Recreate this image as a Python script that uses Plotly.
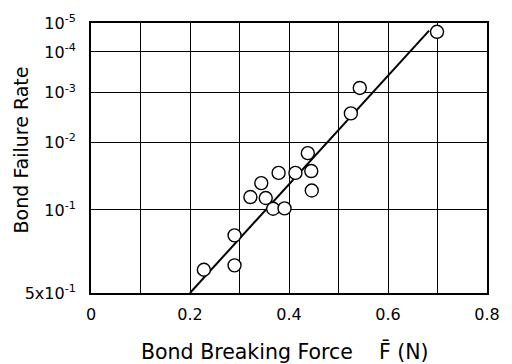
from statistics import NormalDist
import plotly.graph_objects as go

# ---- data ----
force = [0.228, 0.290, 0.290, 0.322, 0.344, 0.353, 0.368, 0.391,
         0.379, 0.413, 0.445, 0.438, 0.446, 0.525, 0.543, 0.699]
failure_rate = [0.36, 0.187, 0.335, 0.0695, 0.045, 0.0715, 0.097, 0.096,
                0.032, 0.032, 0.030, 0.0155, 0.057, 0.0028, 0.00078, 2.8e-5]

fit_force = [0.20, 0.683]
fit_rate = [0.5, 2.6e-5]

x_tick_vals = [0, 0.2, 0.4, 0.6, 0.8]
x_tick_text = ["0", "0.2", "0.4", "0.6", "0.8"]
x_minor_vals = [0.1, 0.3, 0.5, 0.7]

# the top border of the reference's probability scale (labelled 10^-5)
y_top_rate = 1.56e-5
y_tick_rates = [y_top_rate, 1e-4, 1e-3, 1e-2, 1e-1, 0.5]
y_tick_text = ["10<sup>-5</sup>", "10<sup>-4</sup>", "10<sup>-3</sup>",
               "10<sup>-2</sup>", "10<sup>-1</sup>", "5x10<sup>-1</sup>"]

# probability (normal) scale
nd = NormalDist()
def probit(values):
    return [nd.inv_cdf(v) for v in values]

FONT = "DejaVu Sans"

fig = go.Figure()
fig.add_trace(go.Scatter(
    x=fit_force, y=probit(fit_rate), mode="lines",
    line=dict(color="black", width=2), hoverinfo="skip", showlegend=False))
fig.add_trace(go.Scatter(
    x=force, y=probit(failure_rate), mode="markers",
    marker=dict(symbol="circle", size=13, color="white",
                line=dict(color="black", width=1.4)),
    showlegend=False))

z_top = nd.inv_cdf(y_top_rate)

fig.update_layout(
    width=512, height=364,
    margin=dict(l=91, r=24, t=17, b=71),
    paper_bgcolor="white", plot_bgcolor="white",
    font=dict(family=FONT, color="black"),
    xaxis=dict(range=[0, 0.8], tickvals=x_tick_vals, ticktext=x_tick_text,
               showgrid=True, gridcolor="black", gridwidth=1.2,
               minor=dict(tickvals=x_minor_vals, showgrid=True,
                          gridcolor="black", gridwidth=1.2, ticks=""),
               showline=True, linecolor="black", linewidth=2, mirror=True,
               zeroline=False, ticks="", ticklabelstandoff=6,
               tickfont=dict(size=16, family=FONT)),
    yaxis=dict(range=[0.0005, z_top - 0.0005],
               tickvals=probit(y_tick_rates), ticktext=y_tick_text,
               showgrid=True, gridcolor="black", gridwidth=1.2,
               showline=True, linecolor="black", linewidth=2, mirror=True,
               zeroline=False, ticks="", ticklabelstandoff=10,
               tickfont=dict(size=16, family=FONT)),
    annotations=[
        dict(text="Bond Breaking Force \u00a0\u00a0\u00a0F\u0304 (N)",
             xref="paper", yref="paper", x=0.489, y=-0.215,
             xanchor="center", yanchor="middle", showarrow=False,
             font=dict(size=20.5, family=FONT)),
        dict(text="Bond Failure Rate", textangle=-90,
             xref="paper", yref="paper", x=-0.178, y=0.53,
             xanchor="center", yanchor="middle", showarrow=False,
             font=dict(size=19, family=FONT)),
    ],
)

fig.write_html("out.html",
               config={"displayModeBar": False},
               post_script="document.body.style.margin='0';")
